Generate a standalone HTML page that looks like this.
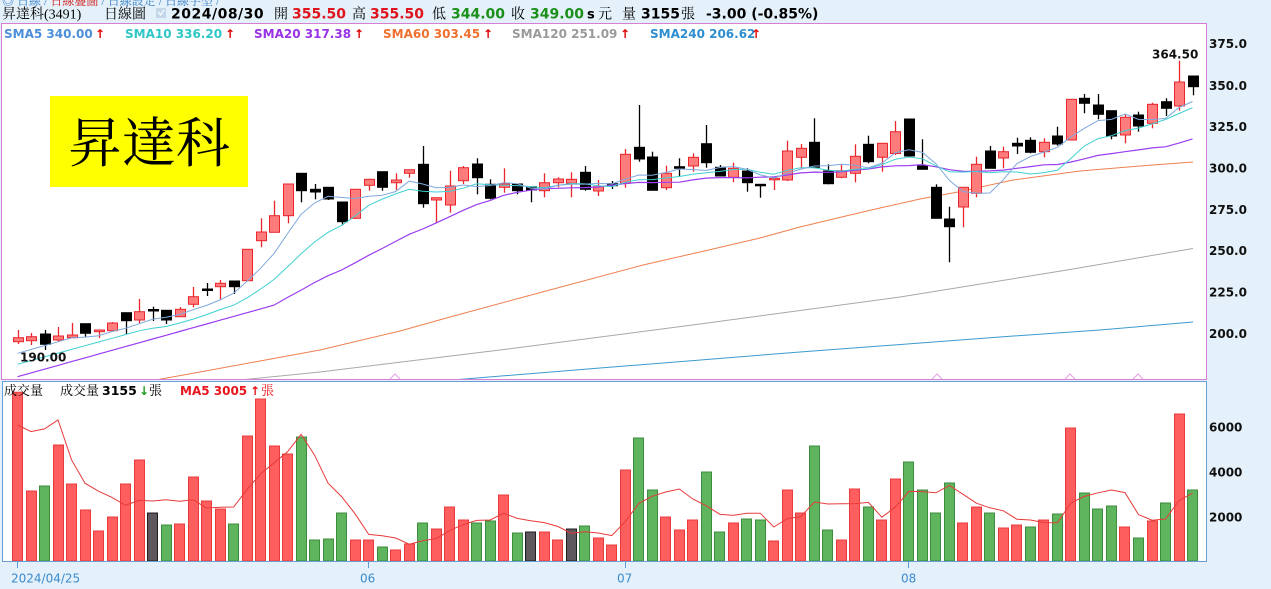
<!DOCTYPE html>
<html><head><meta charset="utf-8">
<style>
html,body{margin:0;padding:0;background:#E4F1FA;width:1271px;height:589px;overflow:hidden}
svg{display:block}
.n{font-family:"DejaVu Sans","Liberation Sans",sans-serif;font-weight:bold}
.s{font-family:"Liberation Serif","Noto Serif CJK SC",serif}
.r{font-family:"DejaVu Sans","Liberation Sans",sans-serif}
</style></head><body>
<svg id="c" width="1271" height="589" viewBox="0 0 1271 589" xmlns="http://www.w3.org/2000/svg">
<defs>
<clipPath id="pc"><rect x="2" y="24" width="1204" height="355"/></clipPath>
<clipPath id="vc"><rect x="3" y="382" width="1203" height="179"/></clipPath>
</defs>
<rect width="1271" height="589" fill="#E4F1FA"/>
<!-- top cut row -->
<text class="s" x="2" y="5" font-size="12" fill="#3A7FC8">◎ 日線 / <tspan fill="#D02020">日線疊圖</tspan> / 日線設定 / 日線字型 /</text>
<!-- header -->
<text class="s" x="2" y="18.5" font-size="14" fill="#000">昇達科(3491)</text>
<text class="s" x="104" y="18.5" font-size="14" fill="#000">日線圖</text>
<rect x="156" y="8" width="10" height="10" fill="#C3D6EA"/>
<polyline points="158,12 160.5,15 164,10" fill="none" stroke="#fff" stroke-width="1.2"/>
<text class="n" x="171" y="18.5" font-size="14" letter-spacing="0.5" fill="#000">2024/08/30</text>
<text class="s" x="274" y="18.5" font-size="14" fill="#000">開</text>
<text class="n" x="292" y="18.5" font-size="14" fill="#E0141C">355.50</text>
<text class="s" x="352" y="18.5" font-size="14" fill="#000">高</text>
<text class="n" x="370" y="18.5" font-size="14" fill="#E0141C">355.50</text>
<text class="s" x="432" y="18.5" font-size="14" fill="#000">低</text>
<text class="n" x="451" y="18.5" font-size="14" fill="#1A8F1A">344.00</text>
<text class="s" x="511" y="18.5" font-size="14" fill="#000">收</text>
<text class="n" x="530" y="18.5" font-size="14" fill="#1A8F1A">349.00</text>
<text class="n" x="587" y="18.5" font-size="13" fill="#000">s</text>
<text class="s" x="598" y="18.5" font-size="14" fill="#000">元</text>
<text class="s" x="622" y="18.5" font-size="14" fill="#000">量</text>
<text class="n" x="641" y="18.5" font-size="14" fill="#000">3155</text>
<text class="s" x="681" y="18.5" font-size="14" fill="#000">張</text>
<text class="n" x="706" y="18.5" font-size="14" fill="#000">-3.00 (-0.85%)</text>

<!-- panels -->
<rect x="1.5" y="23.5" width="1205" height="356" fill="#fff" stroke="#D77FD7" stroke-width="1"/>
<rect x="2.5" y="381.5" width="1204" height="180" fill="#fff" stroke="#6A9FD4" stroke-width="1"/>

<!-- SMA legend -->
<text class="n" x="4" y="38" font-size="12" fill="#4B8FDB">SMA5 340.00</text><text class="n" x="95" y="38" font-size="12" fill="#E00000">↑</text>
<text class="n" x="125" y="38" font-size="12" fill="#2EC6C6">SMA10 336.20</text><text class="n" x="225" y="38" font-size="12" fill="#E00000">↑</text>
<text class="n" x="254" y="38" font-size="12" fill="#9932E6">SMA20 317.38</text><text class="n" x="354" y="38" font-size="12" fill="#E00000">↑</text>
<text class="n" x="383" y="38" font-size="12" fill="#F07030">SMA60 303.45</text><text class="n" x="483" y="38" font-size="12" fill="#E00000">↑</text>
<text class="n" x="512" y="38" font-size="12" fill="#9A9A9A">SMA120 251.09</text><text class="n" x="620" y="38" font-size="12" fill="#E00000">↑</text>
<text class="n" x="650" y="38" font-size="12" fill="#2E8FD0">SMA240 206.62</text><text class="n" x="751" y="38" font-size="12" fill="#E00000">↑</text>

<!-- title box -->
<rect x="50" y="96" width="198" height="91" fill="#FFFF00"/>
<text class="s" x="149" y="162" font-size="54" text-anchor="middle" fill="#000">昇達科</text>

<!-- long MAs -->
<g clip-path="url(#pc)" fill="none" stroke-width="1">
<polyline stroke="#F08050" points="150,381 200,372 260,361 320,350 400,331 450,317 520,298 643,265 700,252 760,238 800,227 850,215 880,208 920,199 958,192 1013,180 1080,171 1140,166 1193,162"/>
<polyline stroke="#A8A8A8" points="230,381 320,372 500,350 700,324 900,297 1067,270 1193,248.5"/>
<polyline stroke="#3A9AD0" points="440,381 600,368 800,352 1000,337 1100,330 1193,322"/>
</g>
<g fill="none" stroke="#E6A0E6" stroke-width="1">
<polyline points="390,379 395,374 400,379"/>
<polyline points="932,379 937,374 942,379"/>
<polyline points="1065,379 1070,374 1075,379"/>
<polyline points="1133,379 1138,374 1143,379"/>
</g>

<g id="cand"></g>
<g id="mas" clip-path="url(#pc)" fill="none"></g>
<g id="vol" clip-path="url(#vc)"></g>

<!-- labels -->
<text class="n" x="20" y="361.5" font-size="12" fill="#111">190.00</text>
<text class="n" x="1152" y="58.5" font-size="12" fill="#111">364.50</text>

<!-- volume legend -->
<text class="s" x="4" y="395" font-size="13" fill="#000">成交量</text>
<text class="s" x="60" y="395" font-size="13" fill="#000">成交量</text>
<text class="n" x="102" y="395" font-size="12.5" fill="#000">3155</text>
<text class="n" x="139" y="395" font-size="12" fill="#1A9A1A">↓</text>
<text class="s" x="149" y="395" font-size="13" fill="#000">張</text>
<text class="n" x="180" y="395" font-size="12" fill="#E8141C">MA5 3005</text>
<text class="n" x="250" y="395" font-size="12" fill="#E8141C">↑</text>
<text class="s" x="261" y="395" font-size="13" fill="#E8141C">張</text>

<!-- y axis -->
<g class="n" font-size="12" fill="#111">
<text x="1209" y="48">375.0</text>
<text x="1209" y="90">350.0</text>
<text x="1209" y="131">325.0</text>
<text x="1209" y="172.5">300.0</text>
<text x="1209" y="214">275.0</text>
<text x="1209" y="255">250.0</text>
<text x="1209" y="296.5">225.0</text>
<text x="1209" y="338">200.0</text>
<text x="1209" y="431.5">6000</text>
<text x="1209" y="476.5">4000</text>
<text x="1209" y="521.5">2000</text>
</g>
<!-- x axis -->
<g stroke="#5A9BD5" stroke-width="1">
<line x1="17.5" y1="562" x2="17.5" y2="568"/>
<line x1="368.5" y1="562" x2="368.5" y2="568"/>
<line x1="625.5" y1="562" x2="625.5" y2="568"/>
<line x1="908.5" y1="562" x2="908.5" y2="568"/>
</g>
<g class="r" font-size="12" fill="#3A8BD0">
<text x="11" y="582.5">2024/04/25</text>
<text x="360" y="582.5">06</text>
<text x="617" y="582.5">07</text>
<text x="901" y="582.5">08</text>
</g>
</svg>
<script>
(function(){
var NS="http://www.w3.org/2000/svg";
var C=[
['r',330,337.7,341.7,344],['r',333,336.7,340.7,345],['k',330,334,344.3,350],['r',327,336,340,342],['r',323,335,337.7,338],
['k',323.7,323.7,333.3,336.7],['r',330,330,331.7,338],['r',322,323,330.7,331],['k',312.7,312.7,320.7,334],['r',299,311.7,320,324],
['k',306.7,309.5,311,321],['k',310.3,310.3,320,324],['r',307,309.3,316.7,317],['r',287,296.7,304.3,307.3],['k',283,289,290,296],
['r',280,283.3,286.7,300],['k',281,281,286.7,294],['r',249.3,249.3,280.7,280.7],['r',218.3,232,240.7,247.3],['r',200.7,215.7,232.3,232.3],
['r',184,184,215.7,223.3],['k',173.3,173.3,190.7,202.3],['k',184,189.3,192,199.3],['k',187.3,187.3,199,200],['k',202,202,221.7,225],
['r',189.3,189.3,218.3,219],['r',178.7,179.3,185.3,190.7],['k',171.7,171.7,187.3,190.7],['r',173.3,180,182.7,190],['r',169.7,169.7,173.3,177.7],
['k',146,164.3,203.7,207.7],['r',197.7,197.7,200,223.3],['r',170.7,186,205,212.7],['r',166,167.7,180.7,184],['k',158.3,164,177.7,194.3],
['k',179.3,184.3,198.3,199.3],['r',168.3,184,187.3,192.7],['k',184,184,190.7,194.3],['k',186.7,186.7,190,202.3],['r',173.3,182.7,190.7,197.3],
['r',177.3,179,182.7,187.3],['r',172.3,179.3,183.3,197.3],['k',166,172.3,189.3,190.7],['r',180,186.7,191,196],['k',181,183.7,185.7,189],
['r',149,154.3,183.3,187.7],['k',105,147.3,159,161.7],['k',151.7,157,190.3,190.3],['r',165.7,173.3,187.7,190],['k',158.3,166.7,168.3,176.7],
['r',153.3,157.3,166,171.7],['k',125,143.7,162.7,167.7],['k',165,167.3,176,176],['r',162.7,168.3,177.3,182.3],['k',168.3,171,182.7,191.7],
['k',184.3,184.3,185,197.7],['r',178.3,178.3,179.7,190],['r',140.7,151,180,181],['r',144,148.3,157.3,168.3],['k',118.3,142.3,167.3,168.3],
['k',164.3,171,183.7,184.3],['r',164.3,170.7,177.3,178.3],['r',144.3,156.3,173.3,182.3],['k',135.7,144.3,161.7,163.3],['r',143.3,143.3,157.3,171.7],
['r',121,131.7,153.5,155],['k',119,119,156,156.7],['k',139.3,166,169.3,169.3],['k',184.3,187.3,218.3,218.3],['k',206.7,219,226.7,262.3],
['r',187.3,187.3,207,227.3],['r',156.7,164.3,193.3,197.3],['k',146,151,168.3,168.3],['r',146.7,151.7,158,168.3],['k',137.7,143.3,146,154],
['k',137.3,140.3,152.3,153.3],['r',138.3,142.3,151.7,157.3],['k',126.7,136,144,145.7],['r',99.3,99.3,140,140],['k',94,98.3,103.3,113.3],
['k',94,105,114.3,119.3],['k',110.7,110.7,136,139.3],['r',114.3,117.3,135,143.3],['k',111.7,115,126,131.7],['r',102.7,104.3,123.3,128.3],
['k',98.3,101.7,108.3,116],['r',60.7,82,106,110.7],['k',76,76,86.7,95.3]];
var V=[[7500,'r'],[3111,'r'],[3333,'g'],[5155,'r'],[3422,'r'],[2267,'r'],[1333,'r'],[1955,'r'],[3422,'r'],[4489,'r'],
[2133,'k'],[1600,'g'],[1644,'r'],[3733,'r'],[2667,'r'],[2311,'r'],[1644,'g'],[5555,'r'],[7200,'r'],[5111,'r'],
[4755,'r'],[5511,'g'],[933,'g'],[977,'g'],[2133,'g'],[933,'r'],[933,'r'],[622,'g'],[489,'r'],[756,'r'],
[1689,'g'],[1422,'r'],[2400,'r'],[1822,'r'],[1689,'g'],[1778,'g'],[2933,'r'],[1244,'g'],[1289,'k'],[1289,'r'],
[933,'r'],[1422,'k'],[1555,'g'],[1022,'r'],[711,'r'],[4044,'r'],[5467,'g'],[3155,'g'],[1955,'r'],[1378,'r'],
[1822,'r'],[3955,'g'],[1289,'g'],[1689,'r'],[1866,'g'],[1822,'g'],[889,'r'],[3155,'r'],[2133,'r'],[5111,'g'],
[1378,'g'],[933,'r'],[3200,'r'],[2400,'g'],[1822,'r'],[3644,'r'],[4400,'g'],[3155,'g'],[2133,'g'],[3467,'g'],
[1689,'r'],[2400,'r'],[2133,'g'],[1467,'r'],[1600,'r'],[1511,'g'],[1822,'r'],[2089,'g'],[5911,'r'],[3022,'g'],
[2311,'g'],[2444,'g'],[1511,'r'],[1022,'g'],[1778,'r'],[2578,'g'],[6533,'r'],[3155,'g']];
function X(i){return 17.5+i*13.506;}
function el(p,tag,a){var e=document.createElementNS(NS,tag);for(var k in a)e.setAttribute(k,a[k]);p.appendChild(e);return e;}
var gc=document.getElementById('cand'),gm=document.getElementById('mas'),gv=document.getElementById('vol');
for(var i=0;i<V.length;i++){
 var v=V[i][0],t=V[i][1],y=561-v*0.0225,x=Math.round(X(i)-5.5)+0.5;
 var f=t=='r'?'#FF5E5E':(t=='g'?'#5EB55E':'#5E585E'),s=t=='r'?'#E83C3C':(t=='g'?'#3E8C3E':'#1E1E1E');
 el(gv,'rect',{x:x,y:y,width:10,height:561-y,fill:f,stroke:s,'stroke-width':1});
}
var vs=[6044,5750,5870,6270],pts=[];
for(var i=0;i<V.length;i++){var m;if(i<4)m=vs[i];else{m=0;for(var j=i-4;j<=i;j++)m+=V[j][0];m/=5;}
 pts.push(X(i).toFixed(1)+','+(561-m*0.0225).toFixed(1));}
el(gv,'polyline',{points:pts.join(' '),fill:'none',stroke:'#E83A3A','stroke-width':1});
for(var i=0;i<C.length;i++){
 var c=C[i],cx=Math.round(X(i))+0.5,red=c[0]=='r';
 var col=red?'#E8262B':'#000';
 el(gc,'line',{x1:cx,y1:c[1],x2:cx,y2:c[4],stroke:col,'stroke-width':1.3});
 var h=c[3]-c[2];if(h<1.5)h=1.5;
 el(gc,'rect',{x:cx-5.5,y:c[2],width:10,height:h,fill:red?'#FF7C7C':'#000',stroke:col,'stroke-width':1,transform:'translate(0.5,0)'});
}
var cl=C.map(function(c){return c[0]=='r'?c[2]:c[3];});
function sma(n,st){var r=[];for(var i=0;i<cl.length;i++){if(i>=n-1){var s=0;for(var j=i-n+1;j<=i;j++)s+=cl[j];r.push(s/n);}else r.push(null);}
 var e=r[n-1];for(var i=0;i<n-1;i++)r[i]=st+(e-st)*i/(n-1);return r;}
function line(arr,color,w){var p=[];for(var i=0;i<arr.length;i++)p.push(X(i).toFixed(1)+','+arr[i].toFixed(1));
 el(gm,'polyline',{points:p.join(' '),stroke:color,'stroke-width':w,fill:'none'});}
line(sma(20,376.7),'#9B3DF0',1.2);
line(sma(10,364.3),'#3FD0D0',1);
line(sma(5,353.3),'#7FA8DD',1);
})();
</script>
</body></html>
